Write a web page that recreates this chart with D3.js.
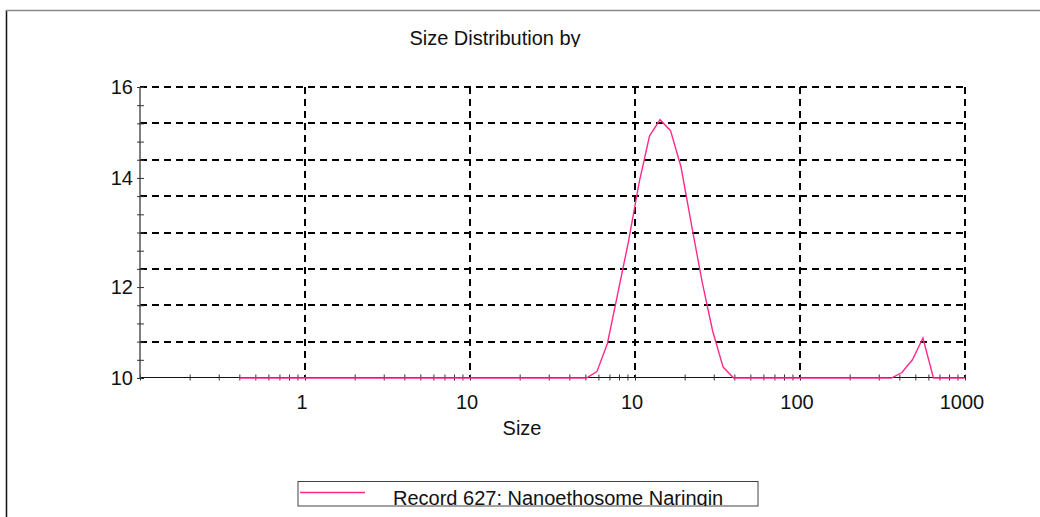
<!DOCTYPE html>
<html>
<head>
<meta charset="utf-8">
<script src="https://cdn.jsdelivr.net/npm/d3@7"></script>
<style>
  body { margin: 0; background: #fff; }
  text { font-family: "Liberation Sans", Arial, sans-serif; fill: #111; }
</style>
</head>
<body>
<svg id="chart" width="1040" height="517"></svg>
<script>
// size bins (d.nm) and intensity (%)
const sizes = [0.4, 0.4632, 0.5365, 0.6213, 0.7195, 0.8332, 0.9649, 1.117, 1.294, 1.499,
  1.736, 2.010, 2.328, 2.696, 3.122, 3.615, 4.187, 4.849, 5.615, 6.503,
  7.531, 8.721, 10.10, 11.70, 13.54, 15.69, 18.17, 21.04, 24.36, 28.21,
  32.67, 37.84, 43.82, 50.75, 58.77, 68.06, 78.82, 91.28, 105.7, 122.4,
  141.8, 164.2, 190.1, 220.2, 255.0, 295.3, 342.0, 396.1, 458.7, 531.2,
  615.1, 712.4, 825.0, 955.4, 1106, 1281, 1484, 1718, 1990, 2305,
  2669, 3091, 3580, 4145, 4801, 5560, 6439, 7456, 8635, 10000];
const intensity = [0, 0, 0, 0, 0, 0, 0, 0, 0, 0,
  0, 0, 0, 0, 0, 0, 0, 0, 0, 0,
  0, 0, 0, 0, 0, 0, 0, 0, 0, 0,
  0, 0, 0, 0, 0.35, 1.9, 4.7, 7.5, 10.7, 13.3,
  14.2, 13.6, 11.6, 8.4, 5.3, 2.6, 0.6, 0, 0, 0,
  0, 0, 0, 0, 0, 0, 0, 0, 0, 0,
  0, 0, 0, 0.3, 1.0, 2.2, 0, 0, 0, 0];

const xMajor = [1, 10, 100, 1000, 10000];
const xTickLabels = ['1', '10', '10', '100', '1000'];
const yGrid = [2, 4, 6, 8, 10, 12, 14, 16];
const yLabelValues = [0, 5, 11, 16];
const yTickLabels = ['10', '12', '14', '16'];

const title = 'Size Distribution by';
const xTitle = 'Size';
const seriesName = 'Record 627: Nanoethosome Naringin';
const pink = '#ff2a8c';

const svg = d3.select('#chart');

const x = d3.scaleLog().domain([0.1, 10000]).range([140, 965]);
const y = d3.scaleLinear().domain([0, 16]).range([378, 87]);

// outer frame (left + top edges only visible)
svg.append('line').attr('x1', 6.5).attr('x2', 6.5).attr('y1', 10).attr('y2', 517)
  .attr('stroke', '#111').attr('stroke-width', 1.5);
svg.append('line').attr('x1', 6).attr('x2', 1040).attr('y1', 10.5).attr('y2', 10.5)
  .attr('stroke', '#888').attr('stroke-width', 1.5);

svg.append('clipPath').attr('id', 'titleClip')
  .append('rect').attr('x', 0).attr('y', 0).attr('width', 1040).attr('height', 47);
svg.append('text').attr('x', 495).attr('y', 45).attr('text-anchor', 'middle')
  .attr('clip-path', 'url(#titleClip)')
  .style('font-size', '20px').text(title);

// grid
svg.append('g').selectAll('line').data(yGrid).join('line')
  .attr('x1', x(0.1)).attr('x2', x(10000))
  .attr('y1', d => Math.round(y(d))).attr('y2', d => Math.round(y(d)))
  .attr('stroke', '#000').attr('stroke-width', 2).attr('stroke-dasharray', '7,5')
  .attr('shape-rendering', 'crispEdges');
svg.append('g').selectAll('line').data(xMajor).join('line')
  .attr('x1', d => Math.round(x(d))).attr('x2', d => Math.round(x(d)))
  .attr('y1', y(16)).attr('y2', y(0))
  .attr('stroke', '#000').attr('stroke-width', 2).attr('stroke-dasharray', '7,5')
  .attr('shape-rendering', 'crispEdges');

// x axis
const xAxis = d3.axisBottom(x)
  .tickValues(x.ticks())
  .tickSize(3)
  .tickFormat('');
const gx = svg.append('g').attr('transform', 'translate(0,377.5)').call(xAxis);
gx.select('.domain').attr('d', `M${x(0.1)},0H${x(10000)}`).attr('stroke', '#111');
gx.selectAll('.tick line').attr('y1', -3).attr('y2', 3).attr('stroke', '#333');

svg.append('g').selectAll('text').data(xMajor).join('text')
  .attr('x', d => x(d) - 3).attr('y', 409).attr('text-anchor', 'middle')
  .style('font-size', '20px')
  .text((d, i) => xTickLabels[i]);

svg.append('text').attr('x', 522).attr('y', 435).attr('text-anchor', 'middle')
  .style('font-size', '20px').text(xTitle);

// y axis
const yAxis = d3.axisLeft(y).ticks(16).tickSize(4).tickFormat('');
const gy = svg.append('g').attr('transform', 'translate(140,0)').call(yAxis);
gy.select('.domain').attr('d', `M0,${y(0)}V${y(16)}`).attr('stroke', '#555').attr('stroke-width', 1.5);
gy.selectAll('.tick line').attr('x1', -3).attr('x2', 4).attr('stroke', '#333');

svg.append('g').selectAll('text').data(yLabelValues).join('text')
  .attr('x', 133).attr('y', d => y(d) + 7).attr('text-anchor', 'end')
  .style('font-size', '20px')
  .text((d, i) => yTickLabels[i]);

// series
const line = d3.line().x((d, i) => x(sizes[i])).y(d => y(d));
svg.append('path').datum(intensity)
  .attr('d', line).attr('fill', 'none')
  .attr('stroke', pink).attr('stroke-width', 1.4);

// legend
const lg = svg.append('g');
lg.append('clipPath').attr('id', 'legClip')
  .append('rect').attr('x', 298).attr('y', 481.5).attr('width', 460).attr('height', 24.5);
lg.append('rect').attr('x', 298).attr('y', 481.5).attr('width', 460).attr('height', 24.5)
  .attr('fill', '#fff').attr('stroke', '#444').attr('stroke-width', 1);
lg.append('line').attr('x1', 300).attr('x2', 365).attr('y1', 492.5).attr('y2', 492.5)
  .attr('stroke', pink).attr('stroke-width', 1.4);
lg.append('text').attr('x', 393).attr('y', 505).attr('clip-path', 'url(#legClip)')
  .style('font-size', '20px').text(seriesName);
</script>
</body>
</html>
